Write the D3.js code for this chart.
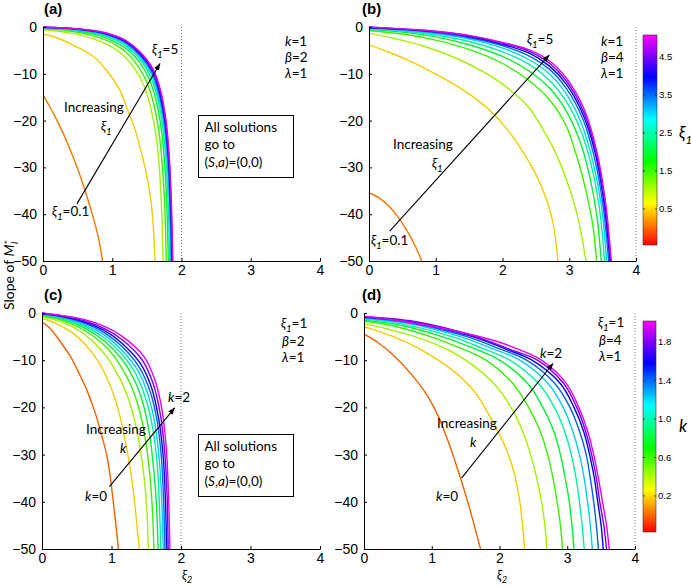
<!DOCTYPE html>
<html><head><meta charset="utf-8">
<script src="https://cdn.jsdelivr.net/npm/d3@7"></script>
<style>body{margin:0;background:#fff}svg{display:block}</style>
</head><body><svg id="c" width="691" height="586"></svg>
<script>
// ---------- DATA ----------
const xi1Values = [0.1, 0.5, 1, 1.5, 2, 2.5, 3, 3.5, 4, 4.5, 5];
const kValues = [0, 0.2, 0.4, 0.6, 0.8, 1.0, 1.2, 1.4, 1.6, 1.8, 2.0];
const xTicks = [0, 1, 2, 3, 4];
const yTicks = [0, -10, -20, -30, -40, -50];
const cbTicksXi1 = [0.5, 1.5, 2.5, 3.5, 4.5];
const cbTicksK = [0.2, 0.6, 1.0, 1.4, 1.8];

// panel (a): k=1, beta=2, lambda=1; one curve per xi1
const curvesA = [
 [[0,-14.5],[0.1,-17.1],[0.2,-19.9],[0.3,-23],[0.4,-26.5],[0.5,-30.3],[0.6,-34.6],[0.7,-39.4],[0.8,-45],[0.86,-50]],
 [[0,-1.5],[0.2,-2.3],[0.44,-3.9],[0.73,-6.3],[0.92,-9.3],[1.11,-13.5],[1.22,-17.7],[1.32,-21.5],[1.4,-25.6],[1.48,-30.5],[1.545,-35.6],[1.59,-42],[1.617,-50]],
 [[0,-0.6],[0.4,-1.3],[0.8,-2.9],[1.0,-4.3],[1.2,-6.6],[1.35,-9.5],[1.47,-13],[1.56,-17.5],[1.63,-23],[1.68,-30],[1.71,-38],[1.735,-50]],
 [[0,-0.35],[0.4,-0.9],[0.8,-2.2],[1.0,-3.4],[1.2,-5.4],[1.38,-8.5],[1.5,-11.8],[1.6,-16.5],[1.68,-23],[1.73,-31],[1.76,-39],[1.78,-50]],
 [[0,-0.2],[0.4,-0.65],[0.8,-1.8],[1.0,-2.9],[1.2,-4.6],[1.4,-7.6],[1.53,-11],[1.63,-15.5],[1.71,-22],[1.76,-30],[1.79,-39],[1.81,-50]],
 [[0,-0.15],[0.4,-0.5],[0.8,-1.5],[1.0,-2.5],[1.2,-4.1],[1.4,-6.9],[1.55,-10.5],[1.65,-15],[1.73,-21.5],[1.78,-29.5],[1.81,-38.5],[1.83,-50]],
 [[0,-0.1],[0.4,-0.42],[0.8,-1.3],[1.0,-2.2],[1.2,-3.7],[1.4,-6.4],[1.56,-10],[1.66,-14.5],[1.745,-21],[1.795,-29],[1.825,-38.5],[1.845,-50]],
 [[0,-0.08],[0.4,-0.36],[0.8,-1.15],[1.0,-2.0],[1.2,-3.4],[1.4,-6.0],[1.57,-9.6],[1.67,-14],[1.755,-20.5],[1.805,-28.5],[1.835,-38],[1.855,-50]],
 [[0,-0.06],[0.4,-0.32],[0.8,-1.05],[1.0,-1.85],[1.2,-3.2],[1.4,-5.7],[1.58,-9.3],[1.68,-13.7],[1.765,-20.2],[1.815,-28.3],[1.845,-38],[1.865,-50]],
 [[0,-0.05],[0.4,-0.3],[0.8,-0.98],[1.0,-1.75],[1.2,-3.05],[1.4,-5.5],[1.585,-9.2],[1.69,-13.6],[1.77,-20],[1.82,-28.2],[1.85,-38],[1.87,-50]],
 [[0,-0.04],[0.4,-0.28],[0.8,-0.92],[1.0,-1.65],[1.2,-2.9],[1.4,-5.3],[1.59,-9.0],[1.695,-13.4],[1.775,-19.8],[1.825,-28],[1.855,-38],[1.875,-50]]
];

// panel (b): k=1, beta=4, lambda=1; one curve per xi1
const curvesB = [
 [[0,-35.4],[0.15,-36.5],[0.3,-38.3],[0.45,-40.9],[0.6,-44.3],[0.7,-47],[0.79,-50]],
 [[0,-3.8],[0.3,-5.4],[0.6,-7.2],[0.9,-9.3],[1.2,-11.6],[1.5,-14.3],[1.8,-17.7],[2.05,-21.5],[2.3,-26.5],[2.5,-31.5],[2.65,-36.5],[2.76,-42],[2.83,-50]],
 [[0,-1.3],[0.36,-2.4],[0.8,-4],[1.36,-7.0],[1.8,-10.3],[2.11,-13.4],[2.4,-17.3],[2.61,-22],[2.8,-27],[2.96,-32.7],[3.08,-38],[3.16,-42.7],[3.25,-50]],
 [[0,-0.8],[0.5,-1.5],[1.0,-2.8],[1.5,-4.8],[2.0,-7.8],[2.4,-11.5],[2.7,-15.5],[2.95,-21],[3.12,-28],[3.25,-35],[3.35,-42],[3.41,-50]],
 [[0,-0.5],[0.5,-1.1],[1.0,-2.1],[1.5,-3.8],[2.0,-6.3],[2.4,-9.4],[2.7,-13],[2.95,-17.8],[3.15,-24],[3.3,-31.5],[3.41,-40],[3.48,-50]],
 [[0,-0.35],[0.5,-0.85],[1.0,-1.7],[1.5,-3.1],[2.0,-5.3],[2.4,-8],[2.7,-11.3],[2.95,-15.8],[3.17,-22],[3.33,-29.5],[3.45,-38.5],[3.53,-50]],
 [[0,-0.25],[0.5,-0.7],[1.0,-1.4],[1.5,-2.6],[2.0,-4.5],[2.4,-7],[2.7,-10],[2.95,-14.2],[3.18,-20.5],[3.35,-28.5],[3.48,-38],[3.56,-50]],
 [[0,-0.15],[0.5,-0.55],[1.0,-1.2],[1.5,-2.3],[2.0,-4.0],[2.4,-6.2],[2.7,-9],[2.95,-13],[3.2,-19.5],[3.37,-27.5],[3.5,-37.5],[3.59,-50]],
 [[0,-0.1],[0.5,-0.48],[1.0,-1.05],[1.5,-2.05],[2.0,-3.7],[2.4,-5.6],[2.7,-8.3],[2.95,-12.1],[3.21,-18.8],[3.39,-27],[3.52,-37.5],[3.61,-50]],
 [[0,-0.05],[0.5,-0.43],[1.0,-0.95],[1.5,-1.9],[2.0,-3.45],[2.4,-5.2],[2.7,-7.7],[2.95,-11.4],[3.22,-18.3],[3.4,-26.7],[3.53,-37.3],[3.62,-50]],
 [[0,0],[0.5,-0.4],[1.0,-0.9],[1.5,-1.8],[2.0,-3.3],[2.4,-4.9],[2.7,-7.2],[2.95,-10.8],[3.23,-17.8],[3.41,-26.4],[3.54,-37],[3.63,-50]]
];

// panel (c): xi1=1, beta=2, lambda=1; one curve per k
const curvesC = [
 [[0,-2],[0.1,-3],[0.23,-5.4],[0.4,-9],[0.52,-12.4],[0.65,-16.5],[0.76,-20.9],[0.86,-26],[0.93,-30],[0.98,-34.5],[1.02,-39.3],[1.06,-44.5],[1.1,-50]],
 [[0,-1.1],[0.2,-2.2],[0.42,-4],[0.62,-6.6],[0.81,-10.3],[0.95,-14.3],[1.05,-18.1],[1.14,-23],[1.21,-28],[1.27,-33],[1.32,-38.5],[1.36,-44],[1.4,-50]],
 [[0,-0.8],[0.3,-2],[0.6,-4.4],[0.85,-7.8],[1.05,-12],[1.2,-16.5],[1.32,-22],[1.41,-28.5],[1.47,-35],[1.51,-42],[1.53,-50]],
 [[0,-0.6],[0.3,-1.6],[0.6,-3.6],[0.9,-6.9],[1.1,-10.5],[1.27,-15],[1.4,-20.5],[1.49,-27],[1.55,-34],[1.59,-42],[1.61,-50]],
 [[0,-0.45],[0.3,-1.35],[0.6,-3.1],[0.9,-6],[1.15,-9.8],[1.33,-14.2],[1.46,-19.5],[1.55,-26],[1.61,-33.5],[1.65,-41.5],[1.67,-50]],
 [[0,-0.35],[0.3,-1.15],[0.6,-2.7],[0.9,-5.3],[1.15,-8.7],[1.35,-12.9],[1.5,-18.5],[1.6,-25],[1.66,-32.5],[1.69,-41],[1.71,-50]],
 [[0,-0.25],[0.3,-1.0],[0.6,-2.4],[0.9,-4.7],[1.15,-7.9],[1.38,-12.2],[1.53,-17.5],[1.63,-24],[1.69,-31.5],[1.725,-40.5],[1.745,-50]],
 [[0,-0.18],[0.3,-0.85],[0.6,-2.1],[0.9,-4.2],[1.15,-7.1],[1.4,-11.5],[1.56,-16.8],[1.66,-23.2],[1.72,-31],[1.75,-40],[1.77,-50]],
 [[0,-0.12],[0.3,-0.75],[0.6,-1.85],[0.9,-3.75],[1.15,-6.4],[1.42,-10.8],[1.58,-16],[1.68,-22.5],[1.745,-30.5],[1.775,-39.5],[1.795,-50]],
 [[0,-0.06],[0.3,-0.65],[0.6,-1.6],[0.9,-3.3],[1.15,-5.6],[1.44,-9.9],[1.6,-15],[1.7,-21.2],[1.765,-29.2],[1.8,-38.8],[1.815,-50]],
 [[0,0],[0.3,-0.55],[0.6,-1.38],[0.9,-2.85],[1.15,-4.9],[1.46,-9.1],[1.62,-14],[1.72,-20],[1.785,-28],[1.82,-38.2],[1.84,-50]]
];

// panel (d): xi1=1, beta=4, lambda=1; one curve per k
const curvesD = [
 [[0,-4.5],[0.2,-6.2],[0.43,-8.9],[0.7,-13],[0.93,-17.4],[1.1,-22],[1.25,-27.5],[1.38,-33],[1.5,-38.5],[1.6,-43.5],[1.72,-50]],
 [[0,-2.9],[0.2,-3.8],[0.43,-5],[0.7,-6.7],[0.93,-8.5],[1.2,-11],[1.42,-13.5],[1.65,-17],[1.86,-22],[2.06,-27.5],[2.2,-33],[2.3,-40],[2.37,-50]],
 [[0,-2.2],[0.35,-3.4],[0.75,-5],[1.15,-7.2],[1.5,-10],[1.92,-15],[2.17,-20],[2.34,-25],[2.46,-30],[2.55,-35],[2.62,-40],[2.67,-45],[2.70,-50]],
 [[0,-1.7],[0.45,-2.8],[0.98,-5],[1.4,-7.3],[1.8,-10],[2.2,-15],[2.43,-20],[2.6,-25],[2.71,-30],[2.79,-35],[2.85,-40],[2.9,-45],[2.93,-50]],
 [[0,-1.5],[0.5,-2.5],[1.15,-5],[1.6,-7.4],[2.0,-10],[2.42,-15],[2.64,-20],[2.8,-25],[2.9,-30],[2.97,-35],[3.03,-40],[3.07,-45],[3.10,-50]],
 [[0,-1.3],[0.55,-2.3],[1.3,-5],[1.75,-7.5],[2.15,-10],[2.58,-15],[2.81,-20],[2.96,-25],[3.06,-30],[3.13,-35],[3.18,-40],[3.22,-45],[3.25,-50]],
 [[0,-1.1],[0.6,-2.1],[1.42,-5],[1.9,-7.6],[2.3,-10],[2.72,-15],[2.94,-20],[3.08,-25],[3.18,-30],[3.25,-35],[3.3,-40],[3.34,-45],[3.37,-50]],
 [[0,-1.0],[0.65,-2.0],[1.52,-5],[2.0,-7.6],[2.4,-10],[2.82,-15],[3.04,-20],[3.18,-25],[3.28,-30],[3.34,-35],[3.39,-40],[3.43,-45],[3.46,-50]],
 [[0,-0.85],[0.7,-1.9],[1.6,-5],[2.1,-7.7],[2.48,-10],[2.9,-15],[3.1,-20],[3.24,-25],[3.33,-30],[3.4,-35],[3.45,-40],[3.5,-45],[3.53,-50]],
 [[0,-0.78],[0.75,-1.8],[1.65,-5],[2.17,-7.8],[2.56,-10],[2.95,-15],[3.14,-20],[3.27,-25],[3.36,-30],[3.43,-35],[3.48,-40],[3.54,-45],[3.58,-50]],
 [[0,-0.7],[0.5,-1.6],[1.0,-2.8],[1.5,-4.3],[2.0,-6.2],[2.3,-7.8],[2.62,-10],[2.99,-15],[3.17,-20],[3.3,-25],[3.39,-30],[3.46,-35],[3.52,-40],[3.58,-45],[3.62,-50]]
];

// colour-bar value ranges (as drawn)
const cbDomainXi1 = [-0.45, 5.08];
const cbDomainK = [-0.175, 2.02];

// ---------- DRAWING ----------
const svg = d3.select('#c');
const defs = svg.append('defs');
const TICKFONT = "'Liberation Sans', Arial, Helvetica, sans-serif";
const ANNFONT = "Lato, 'Noto Sans', 'DejaVu Sans', sans-serif";

defs.append('marker').attr('id','ah').attr('viewBox','0 0 10 10')
  .attr('refX',9.5).attr('refY',5).attr('markerWidth',6.5).attr('markerHeight',6.5)
  .attr('orient','auto').append('path').attr('d','M0,1.2L10,5L0,8.8z').attr('fill','#000');

const grad = defs.append('linearGradient').attr('id','cmap')
  .attr('x1',0).attr('y1',1).attr('x2',0).attr('y2',0);
d3.range(0, 61).forEach(i => {
  const f = i/60;
  grad.append('stop').attr('offset', f).attr('stop-color', d3.hsl(300*f, 1, 0.5).formatHex());
});

function colorFor(domain){
  const s = d3.scaleLinear().domain(domain).range([0,1]);
  return v => d3.hsl(300*s(v), 1, 0.47).formatHex();
}

function rich(g, x, y, parts, size, anchor, font){
  const t = g.append('text').attr('x',x).attr('y',y)
    .attr('font-family', font || ANNFONT).attr('font-size', size)
    .attr('text-anchor', anchor || 'start').attr('fill','#000');
  let shift = 0;
  parts.forEach(p => {
    const ts = t.append('tspan').text(p.t);
    const target = p.sub ? (p.subAmt !== undefined ? p.subAmt : size*0.3) : (p.sup ? (p.supAmt !== undefined ? p.supAmt : -size*0.4) : 0);
    const dy = target - shift;
    if (dy !== 0) ts.attr('dy', dy);
    shift = target;
    if (p.i) ts.attr('font-style','italic');
    if (p.sub || p.sup) ts.attr('font-size', size*0.72);
    if (p.dx) ts.attr('dx', p.dx);
  });
  return t;
}

const panels = [
  {id:'a', label:'(a)', lx:44, ly:14, px:[43,320], py:[27,261], curves:curvesA, vals:xi1Values, dom:cbDomainXi1, asym:2},
  {id:'b', label:'(b)', lx:362, ly:14, px:[369,636], py:[27,261], curves:curvesB, vals:xi1Values, dom:cbDomainXi1, asym:4},
  {id:'c', label:'(c)', lx:44, ly:300, px:[42,320], py:[313,549], curves:curvesC, vals:kValues, dom:cbDomainK, asym:2},
  {id:'d', label:'(d)', lx:362, ly:300, px:[364,635], py:[313,549], curves:curvesD, vals:kValues, dom:cbDomainK, asym:4}
];

const scales = {};
panels.forEach(P => {
  const x = d3.scaleLinear().domain([0,4]).range(P.px);
  const y = d3.scaleLinear().domain([0,-50]).range(P.py);
  scales[P.id] = {x, y};
  const g = svg.append('g');
  const col = colorFor(P.dom);

  defs.append('clipPath').attr('id','clip'+P.id).append('rect')
    .attr('x',P.px[0]).attr('y',P.py[0]-2).attr('width',P.px[1]-P.px[0]).attr('height',P.py[1]-P.py[0]+2);

  g.append('line').attr('x1',x(P.asym)).attr('x2',x(P.asym)).attr('y1',y(0)).attr('y2',y(-50))
    .attr('stroke','#777').attr('stroke-width',1).attr('stroke-dasharray','1,2');

  const line = d3.line().x(d=>x(d[0])).y(d=>y(d[1])).curve(d3.curveCatmullRom.alpha(0.5));
  g.append('g').attr('clip-path','url(#clip'+P.id+')').selectAll('path')
    .data(P.curves).join('path')
    .attr('d', line).attr('fill','none')
    .attr('stroke', (d,i) => col(P.vals[i])).attr('stroke-width',1.4);

  const ax = g.append('g').attr('transform',`translate(0,${P.py[1]})`)
    .call(d3.axisBottom(x).tickValues(xTicks).tickFormat(d3.format('d')).tickSize(-3).tickSizeOuter(0).tickPadding(4.5));
  const ay = g.append('g').attr('transform',`translate(${P.px[0]},0)`)
    .call(d3.axisLeft(y).tickValues(yTicks).tickSize(-3).tickSizeOuter(0).tickPadding(6));
  [ax, ay].forEach(a => {
    a.selectAll('text').attr('font-family',TICKFONT).attr('font-size',14).attr('fill','#000');
    a.selectAll('line,path').attr('stroke','#000');
  });

  g.append('text').attr('x',P.lx).attr('y',P.ly).text(P.label)
    .attr('font-family',TICKFONT).attr('font-weight','bold').attr('font-size',15);
});

// ---------- colour bars ----------
function colorbar(x0, x1, y0, y1, domain, ticks, fmt, labelParts, lx, ly){
  const s = d3.scaleLinear().domain(domain).range([y1, y0]);
  const g = svg.append('g');
  g.append('rect').attr('x',x0).attr('y',y0).attr('width',x1-x0).attr('height',y1-y0)
    .attr('fill','url(#cmap)').attr('stroke','#333').attr('stroke-width',0.6);
  ticks.forEach(t => {
    g.append('line').attr('x1',x0).attr('x2',x0+2).attr('y1',s(t)).attr('y2',s(t)).attr('stroke','#222').attr('stroke-width',0.8);
    g.append('line').attr('x1',x1-2).attr('x2',x1).attr('y1',s(t)).attr('y2',s(t)).attr('stroke','#222').attr('stroke-width',0.8);
    g.append('text').attr('x',x1+2).attr('y',s(t)).attr('dy','0.35em').text(fmt(t))
      .attr('font-family',TICKFONT).attr('font-size',9.5).attr('fill','#000');
  });
  rich(g, lx, ly, labelParts, 17);
}
colorbar(643, 657, 35, 245, cbDomainXi1, cbTicksXi1, d3.format('.1f'),
  [{t:'ξ', i:true},{t:'1', sub:true, i:true}], 679, 139);
colorbar(643, 656, 321, 532, cbDomainK, cbTicksK, d3.format('.1f'),
  [{t:'k', i:true}], 679, 432);

// ---------- annotations ----------
function arrow(id, a, b){
  const {x, y} = scales[id];
  svg.append('line').attr('x1',x(a[0])).attr('y1',y(a[1])).attr('x2',x(b[0])).attr('y2',y(b[1]))
    .attr('stroke','#000').attr('stroke-width',1.1).attr('marker-end','url(#ah)');
}
arrow('a', [0.49,-37.8], [1.69,-7.8]);
arrow('b', [0.31,-43.6], [2.70,-6.0]);
arrow('c', [0.97,-36.8], [1.91,-20.1]);
arrow('d', [1.44,-35.0], [2.79,-10.7]);

const A = svg.append('g');
const S = 13.5;
const xi1 = [{t:'ξ', i:true},{t:'1', sub:true, i:true}];
// (a)
rich(A, 152, 54, [...xi1, {t:'=5'}], S);
rich(A, 64, 112, [{t:'Increasing'}], S);
rich(A, 101, 131, xi1, S);
rich(A, 52, 216, [...xi1, {t:'=0.1'}], S);
rich(A, 285, 46, [{t:'k', i:true},{t:'=1'}], S);
rich(A, 285, 62, [{t:'β', i:true},{t:'=2'}], S);
rich(A, 285, 78, [{t:'λ', i:true},{t:'=1'}], S);
// (b)
rich(A, 527, 44, [...xi1, {t:'=5'}], S);
rich(A, 393, 149, [{t:'Increasing'}], S);
rich(A, 432, 168, xi1, S);
rich(A, 371, 245, [...xi1, {t:'=0.1'}], S);
rich(A, 601, 46, [{t:'k', i:true},{t:'=1'}], S);
rich(A, 601, 62, [{t:'β', i:true},{t:'=4'}], S);
rich(A, 601, 78, [{t:'λ', i:true},{t:'=1'}], S);
// (c)
rich(A, 168, 402, [{t:'k', i:true},{t:'=2'}], S);
rich(A, 86, 434, [{t:'Increasing'}], S);
rich(A, 120, 453, [{t:'k', i:true}], S);
rich(A, 85, 501, [{t:'k', i:true},{t:'=0'}], S);
rich(A, 281, 328, [...xi1, {t:'=1'}], S);
rich(A, 282, 346, [{t:'β', i:true},{t:'=2'}], S);
rich(A, 282, 362, [{t:'λ', i:true},{t:'=1'}], S);
// (d)
rich(A, 540, 358, [{t:'k', i:true},{t:'=2'}], S);
rich(A, 437, 428, [{t:'Increasing'}], S);
rich(A, 470, 447, [{t:'k', i:true}], S);
rich(A, 436, 501, [{t:'k', i:true},{t:'=0'}], S);
rich(A, 598, 327, [...xi1, {t:'=1'}], S);
rich(A, 599, 345, [{t:'β', i:true},{t:'=4'}], S);
rich(A, 599, 361, [{t:'λ', i:true},{t:'=1'}], S);

function solBox(x0, y0, w, h){
  A.append('rect').attr('x',x0).attr('y',y0).attr('width',w).attr('height',h)
    .attr('fill','#fff').attr('stroke','#000').attr('stroke-width',1);
  rich(A, x0+6, y0+16.5, [{t:'All solutions'}], S);
  rich(A, x0+6, y0+33.5, [{t:'go to'}], S);
  rich(A, x0+6, y0+51, [{t:'('},{t:'S',i:true},{t:','},{t:'a',i:true},{t:')=(0,0)'}], S);
}
solBox(198.5, 115.5, 95, 62);
solBox(198.5, 434.5, 95, 62);

// axis titles
const yl = svg.append('g').attr('transform','translate(14,310) rotate(-90)');
rich(yl, 0, 0, [{t:'Slope of '},{t:'M', i:true},{t:'*', sup:true, supAmt:-3},{t:'l', sub:true, i:true, dx:-4}], 14);
rich(svg, 182, 580, [{t:'ξ', i:true},{t:'2', sub:true, i:true, subAmt:3}], 13);
rich(svg, 497, 580, [{t:'ξ', i:true},{t:'2', sub:true, i:true, subAmt:3}], 13);
</script></body></html>
